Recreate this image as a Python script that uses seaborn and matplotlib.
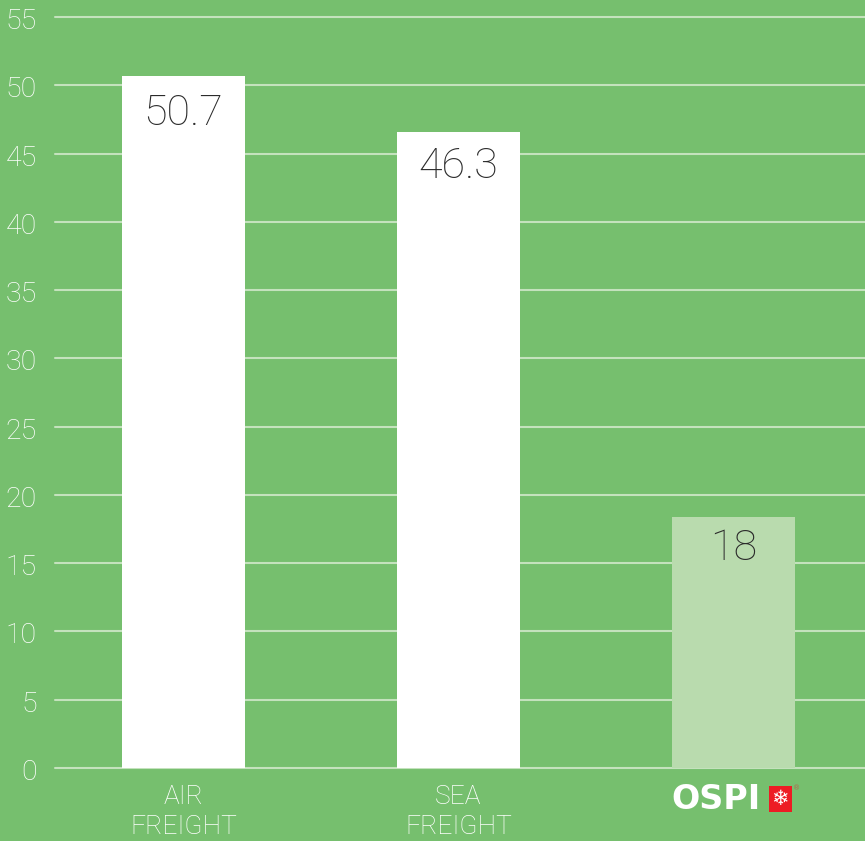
import matplotlib
matplotlib.use("Agg")
import matplotlib.pyplot as plt
from matplotlib.transforms import ScaledTranslation
import seaborn as sns
import pandas as pd

categorias = ["AIR\nFREIGHT", "SEA\nFREIGHT", "OSPI"]
alturas = [50.7, 46.6, 18.4]  # altura
rotulos = ["50.7", "46.3", "18"]
y_ticks = [0, 5, 10, 15, 20, 25, 30, 35, 40, 45, 50, 55]

VERDE = "#76bf6e"
GRADE = "#c4e2bd"
CORES = ["#ffffff", "#ffffff", "#b9dbae"]
FONTE = ["Roboto", "DejaVu Sans"]

sns.set_theme(style="white")
plt.rcParams["font.family"] = FONTE
plt.rcParams["font.weight"] = "light"

df = pd.DataFrame({"cat": categorias, "valor": alturas})

fig = plt.figure(figsize=(8.65, 8.41), dpi=100, facecolor=VERDE)
ax = fig.add_axes([55 / 865, 73 / 841, 810 / 865, 751 / 841], facecolor=VERDE)

sns.barplot(
    data=df, x="cat", y="valor", hue="cat", palette=CORES,
    saturation=1, width=0.447, legend=False, ax=ax, zorder=3, linewidth=0,
)

ax.set_xlim(-0.467, 2.478)
ax.set_ylim(0, 55)
ax.set_yticks(y_ticks)
ax.set_xticks([0, 1, 2])
ax.set_xticklabels([categorias[0], categorias[1], ""], linespacing=1.32)
ax.set_xlabel("")
ax.set_ylabel("")
ax.tick_params(axis="y", length=0, pad=13, labelsize=20.5, labelcolor="white")
ax.tick_params(axis="x", length=0, pad=12, labelsize=19, labelcolor="white")
ax.grid(axis="y", color=GRADE, linewidth=1.5, zorder=1)
ax.set_axisbelow(True)
for g in ax.get_ygridlines():
    g.set_clip_on(False)
sns.despine(ax=ax, left=True, bottom=True, top=True, right=True)

# números do eixo y um pouco abaixo da linha
desce = ScaledTranslation(0, -1.5 / 100, fig.dpi_scale_trans)
for t in ax.get_yticklabels():
    t.set_transform(t.get_transform() + desce)

# rótulos dentro das barras
for i, (h, txt, dy) in enumerate(zip(alturas, rotulos, [-27, -25, -23])):
    ax.annotate(txt, xy=(i, h), xytext=(0, dy), textcoords="offset points",
                ha="center", va="center", fontsize=31, color="#2b2b2b", zorder=5)

# logo OSPI como texto
tr = ax.get_xaxis_transform()
ax.text(1.936, -0.042, "OSPI", transform=tr, ha="center", va="center", fontsize=24,
        fontweight="black", family=["DejaVu Sans"], color="white", clip_on=False)
ax.text(2.17, -0.041, "\u2744", transform=tr, ha="center", va="center", fontsize=15,
        fontweight="normal", family=["DejaVu Sans"], color="white", clip_on=False,
        bbox=dict(boxstyle="square,pad=0.14", fc="#ed1c24", ec="none"))
ax.text(2.228, -0.027, "\u00ae", transform=tr, ha="center", va="center", fontsize=5,
        fontweight="normal", family=["DejaVu Sans"], color="#b5654e", clip_on=False)

fig.savefig("out.png", dpi=100, facecolor=VERDE)
